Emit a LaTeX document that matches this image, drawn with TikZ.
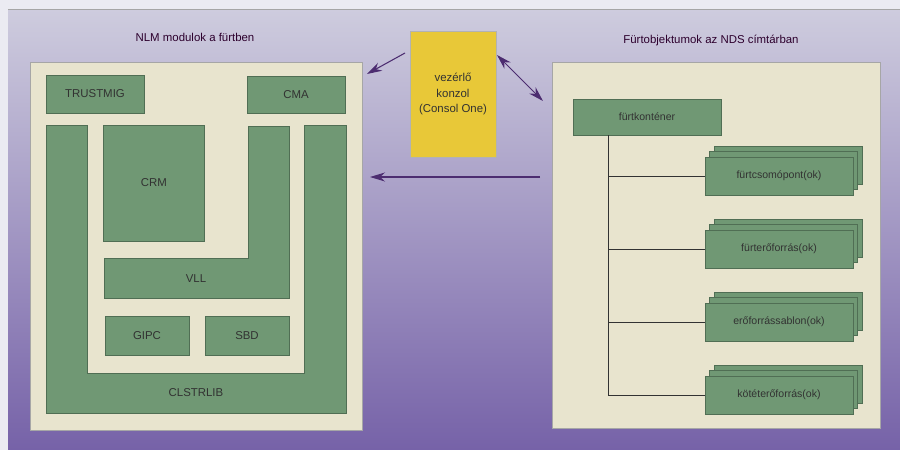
\documentclass[tikz,border=0pt]{standalone}
\usepackage{fontspec}
\setmainfont{Liberation Sans}
\usetikzlibrary{arrows.meta,shadows}

\definecolor{modgreen}{RGB}{112,152,116}
\definecolor{modedge}{RGB}{80,110,84}
\definecolor{cream}{RGB}{232,228,206}
\definecolor{konzyellow}{RGB}{232,200,56}
\definecolor{arrowpurple}{RGB}{76,44,112}
\definecolor{bgtop}{RGB}{206,204,222}
\definecolor{bgbottom}{RGB}{118,98,168}
\definecolor{labelgrey}{RGB}{50,50,50}

\tikzset{
  modbox/.style={draw=modedge, fill=modgreen, inner sep=0pt, text=labelgrey,
    font=\fontsize{6.5}{7}\selectfont},
  panelbox/.style={draw=gray!70, fill=cream, inner sep=0pt},
  objbox/.style={modbox, minimum width=2.96cm, minimum height=0.76cm,
    font=\fontsize{6}{7}\selectfont,
    copy shadow={shadow xshift=0.18cm, shadow yshift=0.22cm},
    copy shadow={shadow xshift=0.09cm, shadow yshift=0.11cm}},
  heading/.style={text=black!65!violet, font=\fontsize{6.5}{7}\selectfont},
  link/.style={draw=arrowpurple, line width=0.6pt}
}

\begin{document}
\begin{tikzpicture}[x=0.02cm, y=-0.02cm]
\useasboundingbox (0,0) rectangle (900,450);
\fill[white!60!bgtop] (0,0) rectangle (900,450);
\shade[top color=bgtop, bottom color=bgbottom] (8,9) rectangle (900,450);
\draw[gray!70] (8,9) -- (900,9);

% NLM modules in the cluster
\node[heading] (nlmtitle) at (195,37) {NLM modulok a fürtben};
\node[panelbox, minimum width=6.64cm, minimum height=7.36cm] (nlm) at (196,246) {};
\node[modbox, minimum width=1.96cm, minimum height=0.76cm] (trustmig) at (95,94) {TRUSTMIG};
\node[modbox, minimum width=1.96cm, minimum height=0.74cm] (cma) at (296,95) {CMA};
\draw[modbox] (46,125) -- (46,413) -- (346,413) -- (346,125) -- (304,125)
      -- (304,373) -- (87,373) -- (87,125) -- cycle;
\node[text=labelgrey, font=\fontsize{6.5}{7}\selectfont] (clstrlib) at (196,393) {CLSTRLIB};
\node[modbox, minimum width=2.02cm, minimum height=2.32cm] (crm) at (154,183) {CRM};
\draw[modbox] (248,126) -- (289,126) -- (289,298) -- (104,298) -- (104,258)
      -- (248,258) -- cycle;
\node[text=labelgrey, font=\fontsize{6.5}{7}\selectfont] (vll) at (196,279) {VLL};
\node[modbox, minimum width=1.68cm, minimum height=0.78cm] (gipc) at (147,336) {GIPC};
\node[modbox, minimum width=1.68cm, minimum height=0.78cm] (sbd) at (247,336) {SBD};

% console
\node[draw=gray!60, fill=konzyellow, minimum width=1.72cm, minimum height=2.52cm,
      align=center, text=labelgrey, font=\fontsize{6.5}{9}\selectfont] (konzol) at (453,94)
      {vezérlő\\konzol\\(Consol One)};

% cluster objects in NDS
\node[heading] (ndstitle) at (711,40) {Fürtobjektumok az NDS címtárban};
\node[panelbox, minimum width=6.56cm, minimum height=7.32cm] (nds) at (716,245) {};
\node[modbox, minimum width=2.96cm, minimum height=0.72cm,
      font=\fontsize{6}{7}\selectfont] (kont) at (647,117) {fürtkonténer};
\node[objbox] (csomo) at (779,176) {fürtcsomópont(ok)};
\node[objbox] (eroforr) at (779,249) {fürterőforrás(ok)};
\node[objbox] (sablon) at (779,322) {erőforrássablon(ok)};
\node[objbox] (kotet) at (779,395) {kötéterőforrás(ok)};
\coordinate (trunk) at (608,395);
\draw[labelgrey, line width=0.5pt] (kont.south -| trunk) -- (trunk) -- (kotet.west)
      (trunk |- csomo.west) -- (csomo.west)
      (trunk |- eroforr.west) -- (eroforr.west)
      (trunk |- sablon.west) -- (sablon.west);

% arrows
\coordinate (k1) at (405,53);
\coordinate (n1) at (367,74);
\coordinate (k2) at (497,55);
\coordinate (n2) at (543,101);
\coordinate (d1) at (540,177);
\coordinate (d2) at (370,177);
\draw[link, -{Stealth[length=0.3cm,width=0.18cm]}] (k1) -- (n1);
\draw[link, {Stealth[length=0.3cm,width=0.18cm]}-{Stealth[length=0.3cm,width=0.18cm]}] (k2) -- (n2);
\draw[link, -{Stealth[length=0.3cm,width=0.18cm]}] (d1) -- (d2);
\end{tikzpicture}
\end{document}
